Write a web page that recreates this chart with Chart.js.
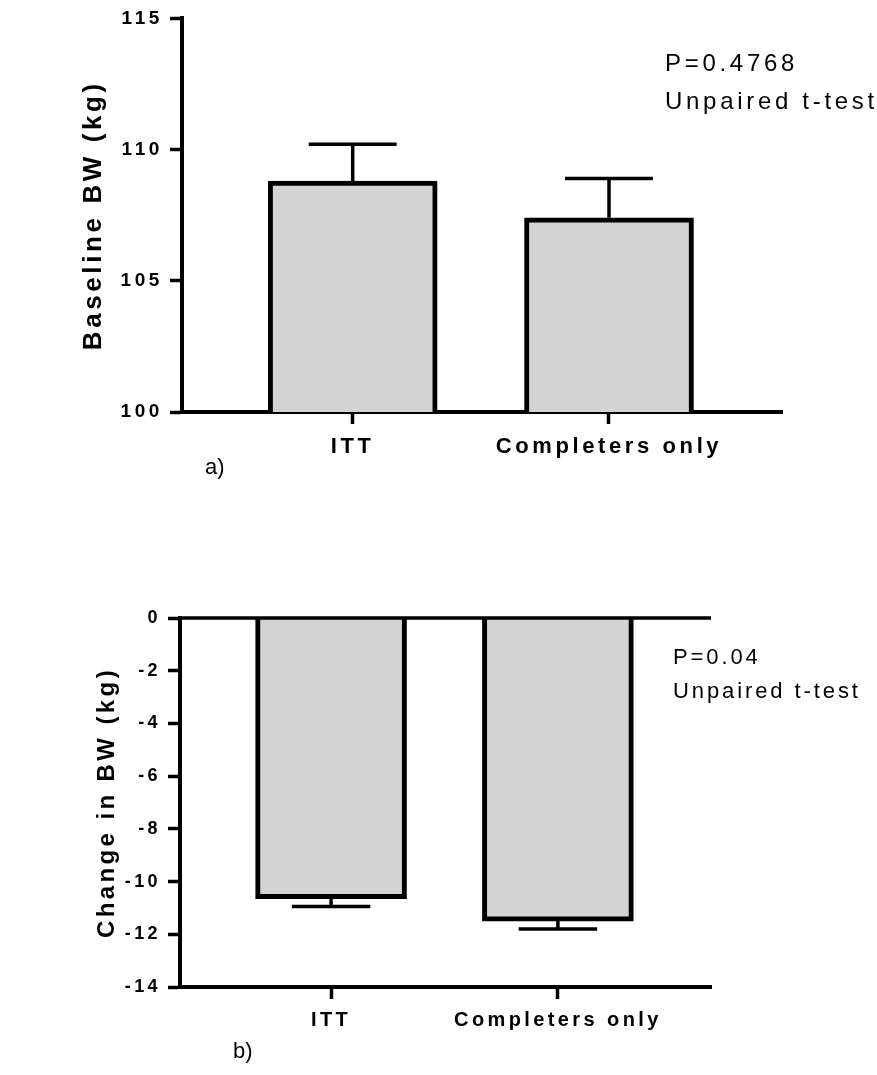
<!DOCTYPE html>
<html>
<head>
<meta charset="utf-8">
<script src="https://cdn.jsdelivr.net/npm/chart.js@4.4.1/dist/chart.umd.min.js"></script>
<style>
  body { margin: 0; background: #ffffff; width: 877px; height: 1075px; position: relative; overflow: hidden; }
  canvas { position: absolute; left: 0; }
  #topChart { top: 0; }
  #bottomChart { top: 560px; }
  .panel { position: absolute; font-family: 'Liberation Sans', Arial, sans-serif; font-size: 22px; color: #000; }
</style>
</head>
<body>
<canvas id="topChart" width="877" height="480"></canvas>
<canvas id="bottomChart" width="877" height="515"></canvas>
<div class="panel" style="left:205px; top:454px;">a)</div>
<div class="panel" style="left:233px; top:1038px;">b)</div>

<script>
// === Data ===
const categories = ["ITT", "Completers only"];

const baselineMeans = [108.8, 107.4];
const baselineSem = [1.4, 1.5];
const baselineTicks = [100, 105, 110, 115];

const changeMeans = [-10.65, -11.5];
const changeSem = [0.3, 0.3];
const changeTicks = [0, -2, -4, -6, -8, -10, -12, -14];

const FONT = "'Liberation Sans', Arial, sans-serif";

// === Plugins ===
// letter spacing: y scale is drawn before the bars, x scale (z: 1) after
const spacing = {
  id: "spacing",
  beforeDraw(chart, args, opts) {
    chart.ctx.letterSpacing = opts.y + "px";
  },
  afterDatasetsDraw(chart, args, opts) {
    chart.ctx.letterSpacing = opts.x + "px";
  }
};

// SEM error bars, drawn away from zero
const errorBars = {
  id: "errorBars",
  afterDatasetsDraw(chart, args, opts) {
    const { ctx } = chart;
    const y = chart.scales.y;
    const meta = chart.getDatasetMeta(0);
    const ds = chart.data.datasets[0];
    ctx.save();
    ctx.strokeStyle = "#000000";
    ctx.lineWidth = 3.5;
    meta.data.forEach((bar, i) => {
      const v = ds.data[i].y;
      const end = v >= 0 ? v + opts.sem[i] : v - opts.sem[i];
      const y0 = y.getPixelForValue(v);
      const y1 = y.getPixelForValue(end);
      const half = bar.width * 0.26;
      ctx.beginPath();
      ctx.moveTo(bar.x, y0);
      ctx.lineTo(bar.x, y1);
      ctx.moveTo(bar.x - half, y1);
      ctx.lineTo(bar.x + half, y1);
      ctx.stroke();
    });
    ctx.restore();
  }
};

// line along y = 0 (bottom chart)
const zeroLine = {
  id: "zeroLine",
  afterDatasetsDraw(chart, args, opts) {
    if (!opts.show) return;
    const { ctx, chartArea } = chart;
    const y0 = chart.scales.y.getPixelForValue(0);
    ctx.save();
    ctx.strokeStyle = "#000000";
    ctx.lineWidth = 3.5;
    ctx.beginPath();
    ctx.moveTo(chartArea.left, y0);
    ctx.lineTo(chartArea.right, y0);
    ctx.stroke();
    ctx.restore();
  }
};

// P value notes
const notes = {
  id: "notes",
  afterDraw(chart, args, opts) {
    const { ctx } = chart;
    ctx.save();
    ctx.fillStyle = "#000000";
    ctx.font = opts.size + "px " + FONT;
    ctx.letterSpacing = opts.spacing + "px";
    ctx.textAlign = "left";
    ctx.textBaseline = "middle";
    opts.lines.forEach((t, i) => ctx.fillText(t, opts.x, opts.y[i]));
    ctx.restore();
  }
};

// === Chart builder ===
function makeChart(id, cfg) {
  const ctx = document.getElementById(id).getContext("2d");
  const lo = Math.min(...cfg.ticks);
  const hi = Math.max(...cfg.ticks);
  return new Chart(ctx, {
    type: "bar",
    data: {
      datasets: [{
        data: cfg.means.map((m, i) => ({ x: i + 1, y: m })),
        backgroundColor: "#d3d3d3",
        borderColor: "#000000",
        borderWidth: 5,
        borderSkipped: "start",
        barThickness: cfg.barWidth
      }]
    },
    plugins: [spacing, errorBars, zeroLine, notes],
    options: {
      responsive: false,
      animation: false,
      layout: { padding: cfg.padding },
      scales: {
        x: {
          type: "linear",
          min: 0.334,
          max: 2.675,
          offset: false,
          z: 1,
          afterBuildTicks: s => { s.ticks = [{ value: 1 }, { value: 2 }]; },
          afterFit: s => { s.height = cfg.xHeight; },
          ticks: {
            color: "#000000",
            padding: cfg.xPad,
            maxRotation: 0,
            font: { family: FONT, size: cfg.xFont, weight: "bold" },
            callback: v => categories[v - 1]
          },
          grid: {
            offset: false,
            drawOnChartArea: false,
            tickLength: 12,
            tickWidth: 3.5,
            tickColor: "#000000"
          },
          border: { display: true, color: "#000000", width: 4 }
        },
        y: {
          min: lo,
          max: hi,
          afterBuildTicks: s => { s.ticks = cfg.ticks.map(v => ({ value: v })); },
          afterFit: s => { s.width = cfg.yWidth; },
          ticks: {
            color: "#000000",
            padding: 7,
            font: { family: FONT, size: cfg.yFont, weight: "bold" }
          },
          grid: {
            drawOnChartArea: false,
            tickLength: 12,
            tickWidth: 3.5,
            tickColor: "#000000"
          },
          border: { display: true, color: "#000000", width: 4 },
          title: {
            display: true,
            text: cfg.yTitle,
            color: "#000000",
            padding: { top: cfg.titlePad, bottom: 0 },
            font: { family: FONT, size: cfg.titleFont, weight: "bold" }
          }
        }
      },
      plugins: {
        legend: { display: false },
        tooltip: { enabled: false },
        spacing: cfg.spacing,
        errorBars: { sem: cfg.sem },
        zeroLine: { show: cfg.zeroLine },
        notes: cfg.notes
      }
    }
  });
}

// === a) baseline body weight ===
makeChart("topChart", {
  means: baselineMeans,
  sem: baselineSem,
  ticks: baselineTicks,
  barWidth: 169,
  padding: { top: 15, right: 95, left: 0, bottom: 0 },
  xHeight: 68,
  yWidth: 182,
  xPad: 10,
  xFont: 22,
  yFont: 19,
  spacing: { x: 4, y: 3.6 },
  yTitle: "Baseline BW (kg)",
  titleFont: 26,
  titlePad: 78,
  zeroLine: false,
  notes: { lines: ["P=0.4768", "Unpaired t-test"], x: 665, y: [64, 102], size: 24, spacing: 3.7 }
});

// === b) change in body weight ===
makeChart("bottomChart", {
  means: changeMeans,
  sem: changeSem,
  ticks: changeTicks,
  barWidth: 151,
  padding: { top: 58, right: 166, left: 0, bottom: 0 },
  xHeight: 88,
  yWidth: 180,
  xPad: 9,
  xFont: 20,
  yFont: 18,
  spacing: { x: 3.2, y: 3.4 },
  yTitle: "Change in BW (kg)",
  titleFont: 24,
  titlePad: 93,
  zeroLine: true,
  notes: { lines: ["P=0.04", "Unpaired t-test"], x: 673, y: [98, 132], size: 22, spacing: 2.9 }
});
</script>
</body>
</html>
